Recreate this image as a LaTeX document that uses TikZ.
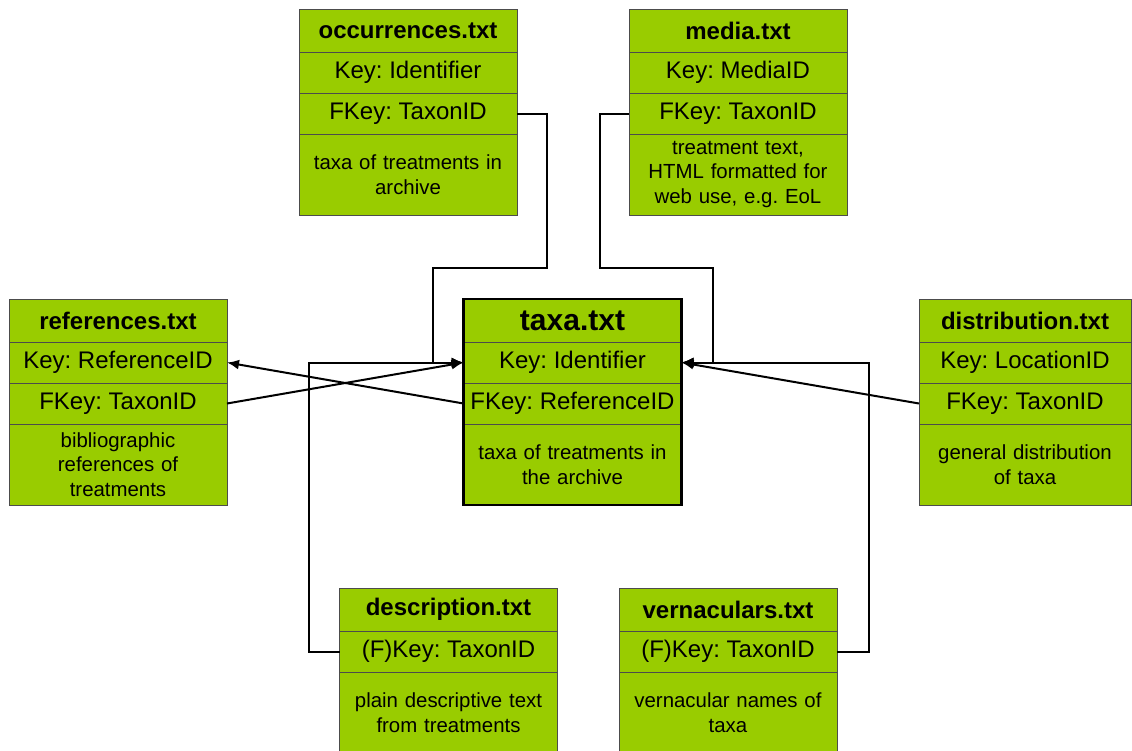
\documentclass[tikz,border=0pt]{standalone}
\usepackage{fontspec}
\setmainfont{Liberation Sans}
\usetikzlibrary{positioning,arrows.meta}
\definecolor{tblgreen}{RGB}{153,204,0}
\frenchspacing

\begin{document}
\begin{tikzpicture}[x=0.5pt, y=-0.5pt,
  every node/.style = {align=center},
  row/.style={draw=black!70, fill=tblgreen, minimum width=109pt, minimum height=20.5pt,
    inner sep=0pt, outer sep=0pt, font=\fontsize{12}{14}\selectfont},
  head/.style={row, minimum height=21.5pt, font=\fontsize{12}{14}\selectfont\bfseries},
  note/.style={row, minimum height=40.5pt, text width=104pt, font=\fontsize{10.2}{12.4}\selectfont},
  link/.style={draw, line width=1pt, -{Latex[length=6pt,width=5pt]}}]
  \useasboundingbox (0,0) rectangle (1132,751);
  \clip (0,0) rectangle (1132,751);

  % top row
  \node[head, anchor=north] (occ-head) at (408,9) {occurrences.txt};
  \node[row, below=0pt of occ-head] (occ-key) {Key: Identifier};
  \node[row, below=0pt of occ-key] (occ-fk) {FKey: TaxonID};
  \node[note, below=0pt of occ-fk] (occ-note) {taxa of treatments in\\archive};

  \node[head, anchor=north] (media-head) at (738,9) {media.txt};
  \node[row, below=0pt of media-head] (media-key) {Key: MediaID};
  \node[row, below=0pt of media-key] (media-fk) {FKey: TaxonID};
  \node[note, below=0pt of media-fk] (media-note) {treatment text,\\HTML formatted for\\web use, e.g. EoL};

  % middle row
  \node[head, anchor=north] (ref-head) at (118,299) {references.txt};
  \node[row, below=0pt of ref-head] (ref-key) {Key: ReferenceID};
  \node[row, below=0pt of ref-key] (ref-fk) {FKey: TaxonID};
  \node[note, below=0pt of ref-fk] (ref-note) {bibliographic\\references of\\treatments};

  \node[head, anchor=north, font=\fontsize{15}{18}\selectfont\bfseries] (taxa-head) at (572.5,299) {taxa.txt};
  \node[row, below=0pt of taxa-head] (taxa-key) {Key: Identifier};
  \node[row, below=0pt of taxa-key] (taxa-fk) {FKey: ReferenceID};
  \node[note, below=0pt of taxa-fk] (taxa-note) {taxa of treatments in\\the archive};
  \draw[line width=1.2pt] (taxa-head.north west) rectangle (taxa-note.south east);

  \node[head, anchor=north, minimum width=106pt] (dist-head) at (1025,299) {distribution.txt};
  \node[row, minimum width=106pt, below=0pt of dist-head] (dist-key) {Key: LocationID};
  \node[row, minimum width=106pt, below=0pt of dist-key] (dist-fk) {FKey: TaxonID};
  \node[note, minimum width=106pt, below=0pt of dist-fk] (dist-note) {general distribution\\of taxa};

  % bottom row
  \node[head, anchor=north] (desc-head) at (448.5,588) {description.txt};
  \node[row, below=0pt of desc-head] (desc-fk) {(F)Key: TaxonID};
  \node[note, below=0pt of desc-fk] (desc-note) {plain descriptive text\\from treatments};

  \node[head, anchor=north] (vern-head) at (728,588) {vernaculars.txt};
  \node[row, below=0pt of vern-head] (vern-fk) {(F)Key: TaxonID};
  \node[note, below=0pt of vern-fk] (vern-note) {vernacular names of\\taxa};

  % links
  \path[link] (occ-fk.east) -- ++(30,0) |- (433,268) |- (taxa-key.west);
  \path[link] (media-fk.west) -- ++(-29,0) |- (713,268) |- (taxa-key.east);
  \path[link] (desc-fk.west) -- ++(-31,0) |- (taxa-key.west);
  \path[link] (vern-fk.east) -- ++(32,0) |- (taxa-key.east);
  \path[link] (ref-fk.east) -- (taxa-key.west);
  \path[link] (taxa-fk.west) -- (ref-key.east);
  \path[link] (dist-fk.west) -- (taxa-key.east);
\end{tikzpicture}
\end{document}
